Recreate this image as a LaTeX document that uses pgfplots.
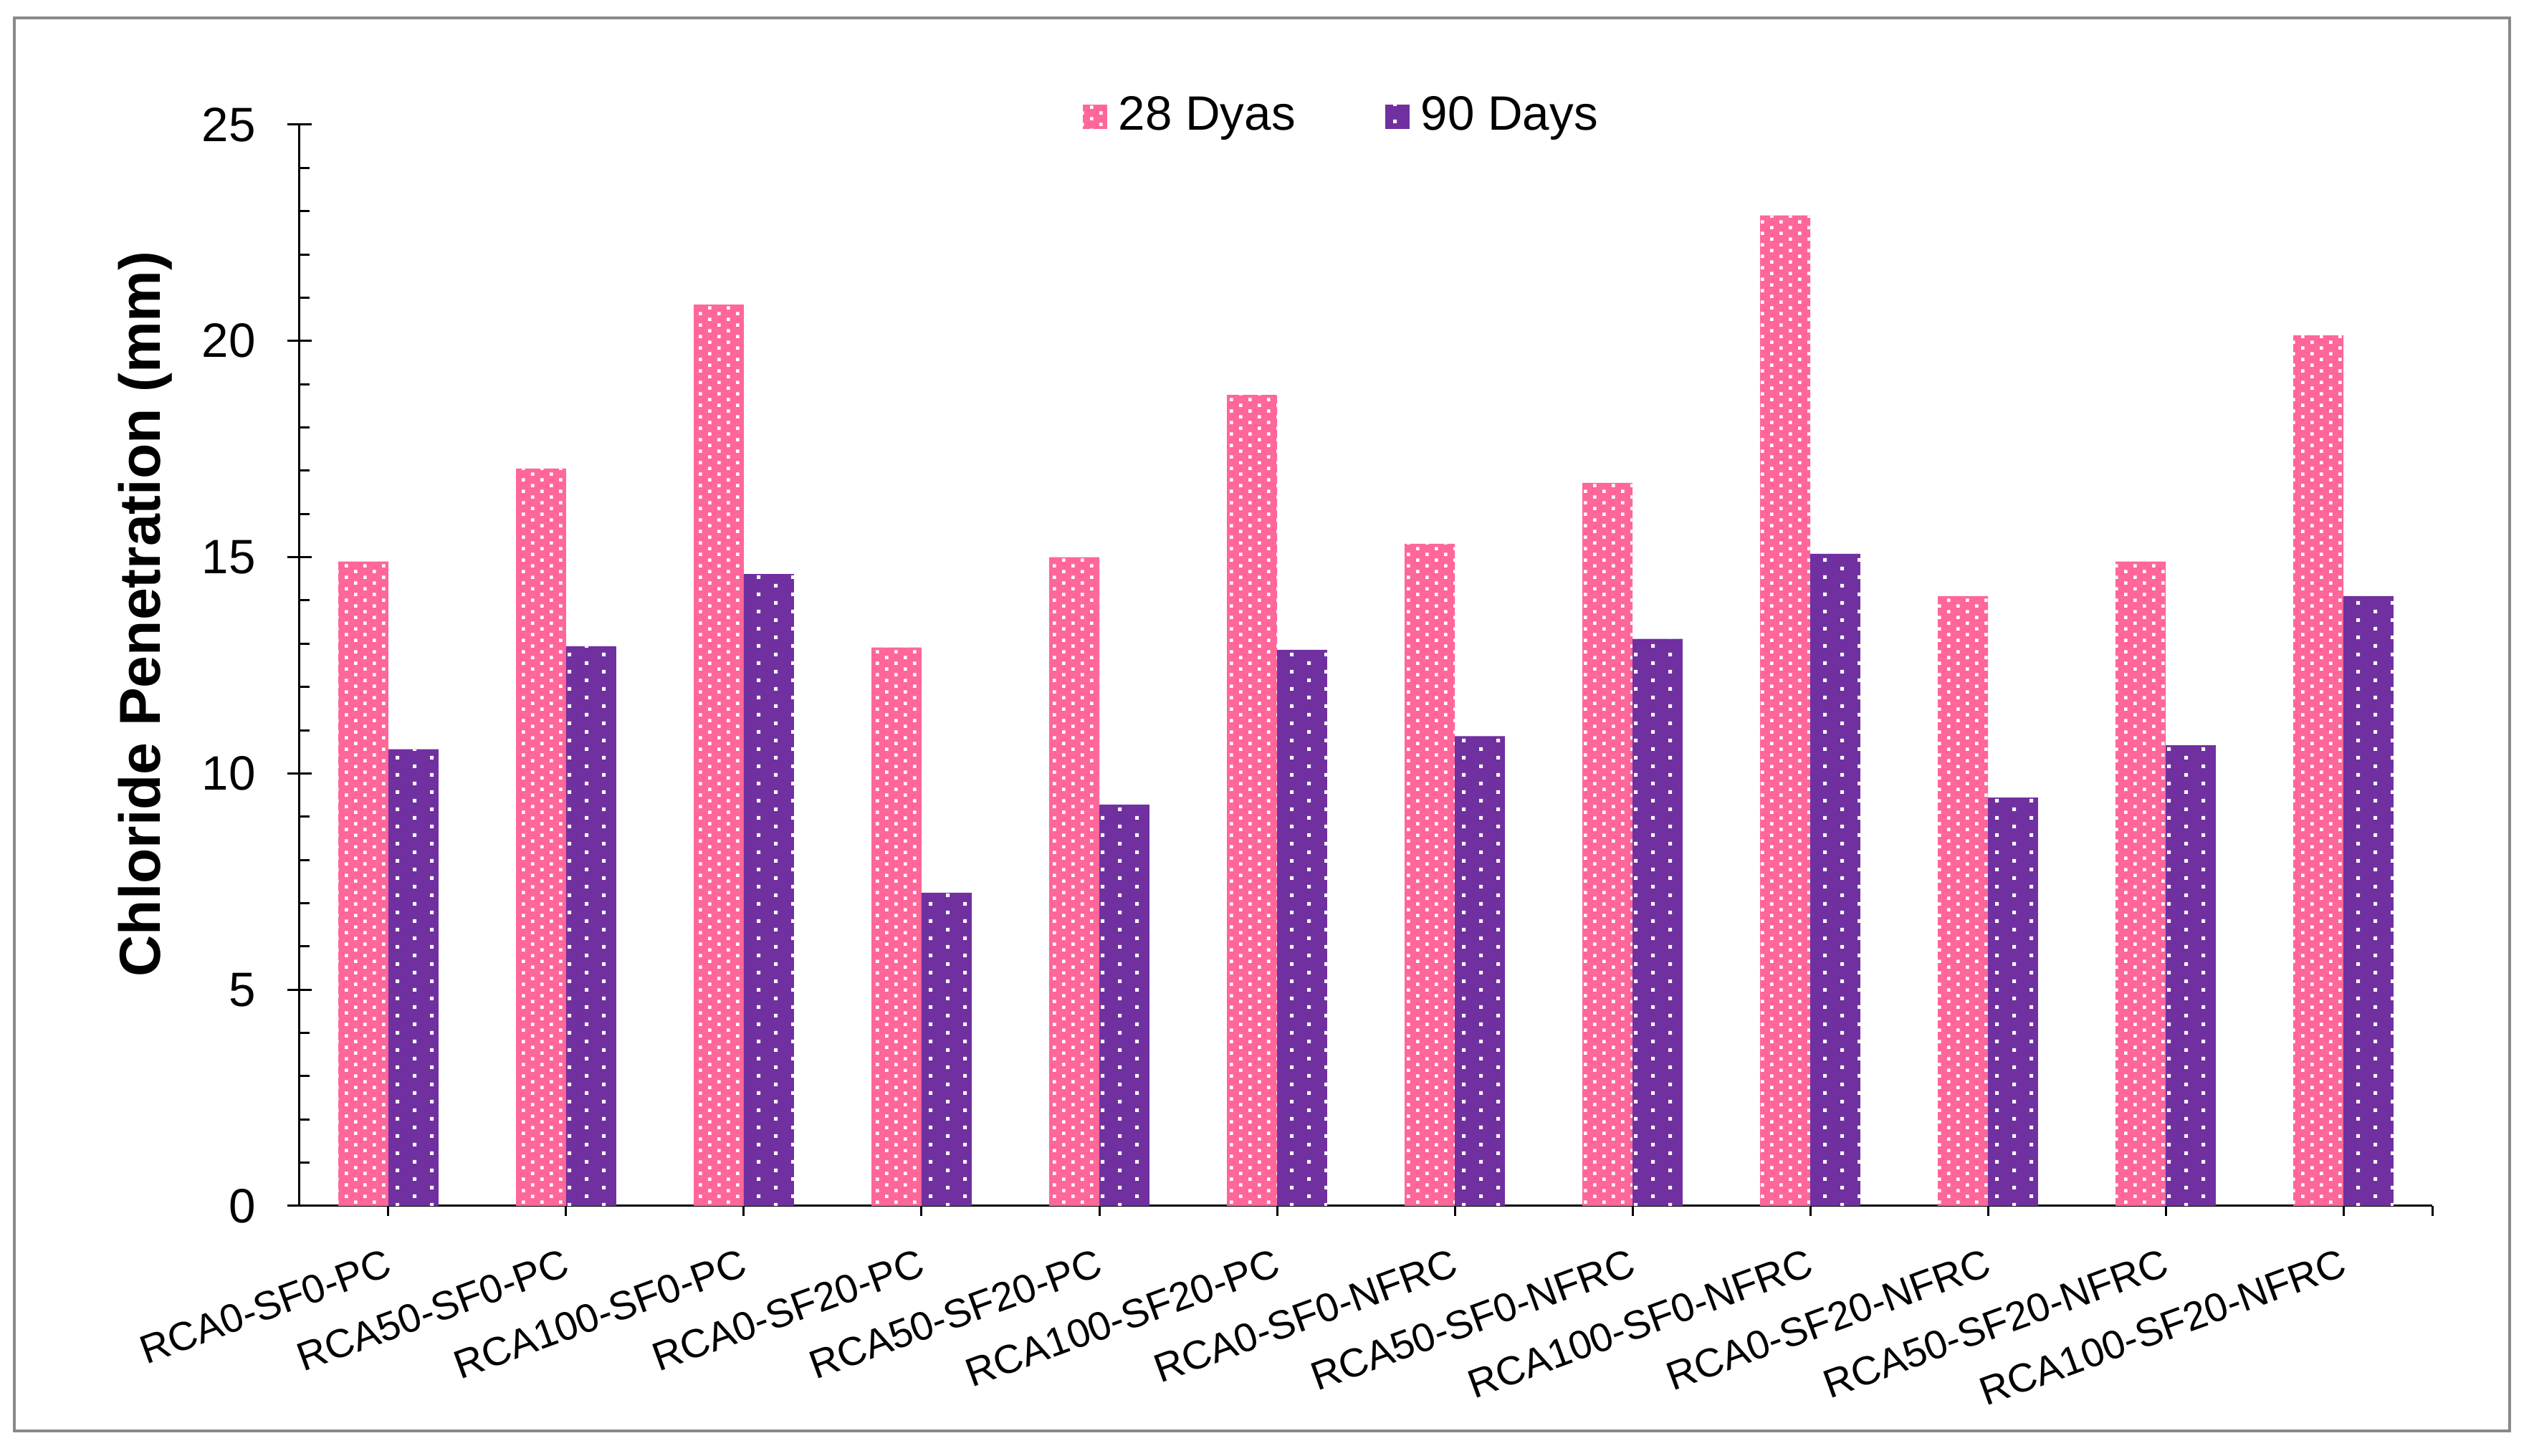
\documentclass[border=0pt]{standalone}
\usepackage{fontspec}
\setmainfont{Liberation Sans}
\usepackage{pgfplots}
\pgfplotsset{compat=1.18}
\usetikzlibrary{patterns}
\definecolor{pinkc}{HTML}{FF6699}
\definecolor{purpc}{HTML}{7030A0}
\definecolor{framegray}{HTML}{898989}
\pgfdeclarepatternformonly{pinkdots}{\pgfqpoint{-0.1pt}{-0.1pt}}{\pgfqpoint{4pt}{2.5pt}}{\pgfqpoint{3.9pt}{2.4pt}}{%
  \pgfpathrectangle{\pgfqpoint{0pt}{0pt}}{\pgfqpoint{0.7pt}{0.7pt}}%
  \pgfpathrectangle{\pgfqpoint{1.95pt}{1.2pt}}{\pgfqpoint{0.7pt}{0.7pt}}%
  \pgfusepath{fill}}
\pgfdeclarepatternformonly{purpdots}{\pgfqpoint{-0.1pt}{-0.1pt}}{\pgfqpoint{7.3pt}{3.7pt}}{\pgfqpoint{7.2pt}{3.6pt}}{%
  \pgfpathrectangle{\pgfqpoint{0pt}{0pt}}{\pgfqpoint{0.75pt}{0.75pt}}%
  \pgfpathrectangle{\pgfqpoint{3.6pt}{1.8pt}}{\pgfqpoint{0.75pt}{0.75pt}}%
  \pgfusepath{fill}}
\pgfplotstableread{
x d28 d90
0 14.90 10.56
1 17.05 12.94
2 20.84 14.61
3 12.91 7.24
4 15.00 9.28
5 18.75 12.86
6 15.31 10.86
7 16.72 13.11
8 22.90 15.08
9 14.10 9.44
10 14.90 10.65
11 20.13 14.10
}\datatable
\begin{document}
\begin{tikzpicture}
\begin{axis}[
  scale only axis,
  width=446.4pt, height=226.35pt,
  xmin=-0.5, xmax=11.5, ymin=0, ymax=25,
  axis x line*=bottom, axis y line*=left,
  axis line style={line width=0.45pt},
  every tick/.style={black, line width=0.45pt},
  tick align=outside,
  major tick length=5pt,
  minor tick length=2.1pt,
  major y tick style={xshift=2.5pt},
  minor y tick style={xshift=2.1pt},
  major x tick style={yshift=2.9pt},
  ytick={0,5,...,25},
  minor y tick num=4,
  xtick={0,...,11},
  xticklabels={RCA0-SF0-PC,RCA50-SF0-PC,RCA100-SF0-PC,RCA0-SF20-PC,RCA50-SF20-PC,RCA100-SF20-PC,RCA0-SF0-NFRC,RCA50-SF0-NFRC,RCA100-SF0-NFRC,RCA0-SF20-NFRC,RCA50-SF20-NFRC,RCA100-SF20-NFRC},
  extra x ticks={11.5},
  extra x tick labels={},
  extra x tick style={major tick length=2.1pt, major x tick style={yshift=-2.9pt}},
  /pgf/number format/assume math mode=true,
  yticklabel style={font=\fontsize{10.1}{12}\selectfont, inner sep=0pt, anchor=east, xshift=-4pt},
  xticklabel style={font=\fontsize{8.4}{10}\selectfont, rotate=20, anchor=north east, inner sep=0pt, yshift=-3.1pt, xshift=-1.9pt},
  every axis y label/.style={at={(rel axis cs:-0.0655,0.5474)}, anchor=base, rotate=90, inner sep=0pt, font=\fontsize{12.1}{14}\selectfont\bfseries},
  ylabel={Chloride Penetration (mm)},
  legend columns=2,
  legend style={at={(rel axis cs:0.488,1.0073)}, anchor=center, draw=none, fill=none,
    font=\fontsize{10.1}{12}\selectfont,
    nodes={inner sep=0pt},
    /tikz/every even column/.append style={column sep=18.75pt},
    /tikz/every odd column/.append style={column sep=2.4pt}},
  legend image code/.code={\path[#1, draw=none] (0pt,-2.55pt) rectangle (5.1pt,2.55pt);},
]
\addplot[ybar, bar width=0.282, bar shift=-0.141, fill=pinkc, draw=none,
  postaction={pattern=pinkdots, pattern color=white}] table[x=x, y=d28] {\datatable};
\addlegendentry{28 Dyas}
\addplot[ybar, bar width=0.282, bar shift=0.141, fill=purpc, draw=none,
  postaction={pattern=purpdots, pattern color=white}] table[x=x, y=d90] {\datatable};
\addlegendentry{90 Days}
\coordinate (fr1) at (rel axis cs:-0.1337,-0.2081);
\coordinate (fr2) at (rel axis cs:1.0363,1.0988);
\coordinate (bb1) at (rel axis cs:-0.14046,-0.23128);
\coordinate (bb2) at (rel axis cs:1.04772,1.11531);
\end{axis}
\pgfresetboundingbox
\path[use as bounding box] (bb1) rectangle (bb2);
\draw[line width=0.5pt, framegray] (fr1) rectangle (fr2);
\end{tikzpicture}
\end{document}
